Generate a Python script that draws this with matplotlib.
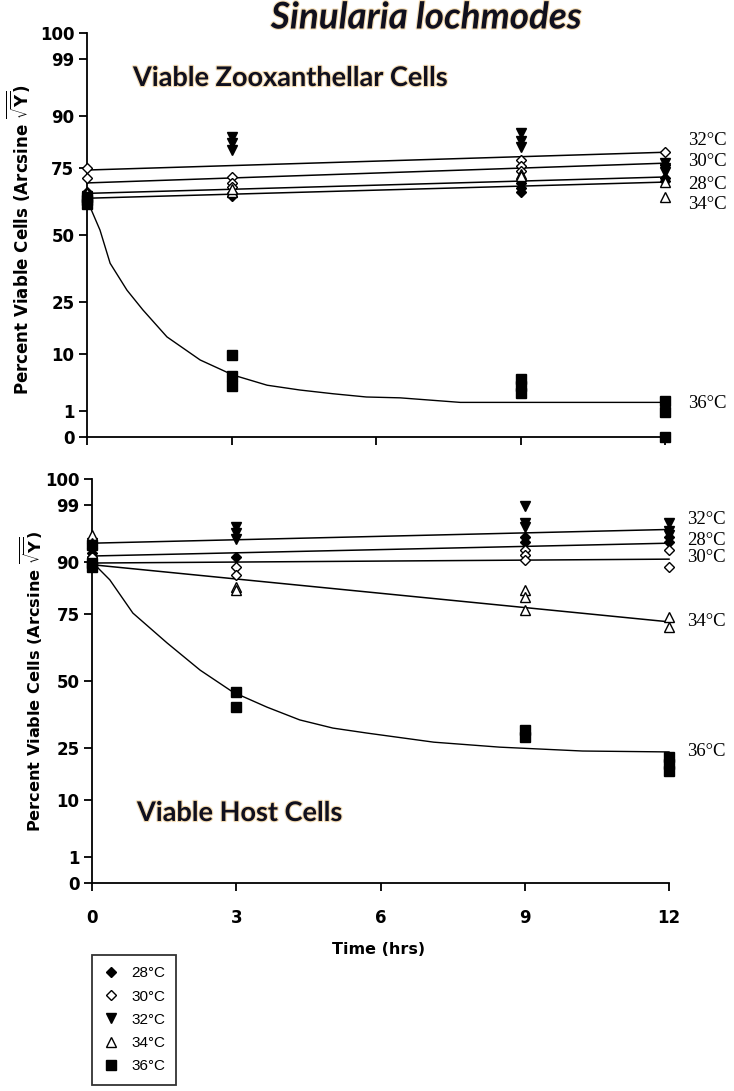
import numpy as np
import matplotlib
matplotlib.use("Agg")
import matplotlib.pyplot as plt
import matplotlib.patheffects as pe
from matplotlib.transforms import blended_transform_factory

plt.rcParams["font.family"] = ["DejaVu Sans"]
plt.rcParams["mathtext.fontset"] = "dejavusans"

# Sampling times (hrs) and temperatures
times = [0, 3, 9, 12]
temps = ["28", "30", "32", "34", "36"]

# Viable zooxanthellar cells (%), replicates per time point
zoox_28 = [[65.3, 66.5], [66.0, 65.0], [69.8, 67.9, 66.3], [71.4, 70.5]]
zoox_30 = [[75.0, 71.4], [71.8, 69.8, 68.3], [77.5, 75.5, 74.0], [80.0, 76.0]]
zoox_32 = [[64.0, 65.0], [84.5, 82.7, 80.7], [85.6, 83.5, 81.6], [76.5, 74.8, 73.5]]
zoox_34 = [[66.0, 64.5], [66.5, 67.5], [73.0, 72.0], [64.6, 70.0]]
zoox_36 = [[62.0, 63.5, 64.5], [9.9, 5.5, 3.9], [5.0, 3.9, 2.9], [1.9, 0.94, 0.0]]

# fitted lines (value at 0 h and 12 h)
zoox_fit_28 = [65.9, 71.8]
zoox_fit_30 = [69.7, 76.5]
zoox_fit_32 = [74.2, 80.0]
zoox_fit_34 = [64.1, 70.0]
zoox_fit_36_t = [0, 0.27, 0.48, 0.83, 1.16, 1.66, 2.35, 3.03, 3.74, 4.42, 5.11, 5.8, 6.5, 7.75, 12]
zoox_fit_36 = [63.5, 51.9, 39.1, 29.2, 22.5, 14.4, 8.7, 5.7, 4.0, 3.3, 2.8, 2.4, 2.3, 1.8, 1.8]

# Viable host cells (%)
host_28 = [[91.0, 92.0], [91.0], [95.0, 94.2], [95.0, 94.2]]
host_30 = [[90.0, 91.0], [88.8, 86.8], [92.5, 91.5, 90.3], [92.5, 88.8]]
host_32 = [[94.0, 93.0], [96.5, 95.7, 94.7], [98.9, 97.1, 96.5], [97.1, 96.0, 95.4]]
host_34 = [[95.4, 94.0], [83.3, 82.6], [82.6, 80.5, 76.2], [73.7, 70.3]]
host_36 = [[93.6, 89.7, 88.8], [45.7, 39.9], [31.5, 28.9], [22.2, 19.9, 17.7]]

host_fit_28 = [91.3, 93.9]
host_fit_30 = [89.7, 90.6]
host_fit_32 = [93.9, 96.2]
host_fit_34 = [89.3, 72.2]
host_fit_36_t = [0, 0.1, 0.37, 0.85, 1.56, 2.25, 2.93, 3.64, 4.32, 5.01, 5.72, 7.11, 8.48, 10.2, 12]
host_fit_36 = [89.7, 88.8, 85.4, 75.2, 64.6, 54.2, 45.7, 39.9, 35.1, 32.1, 30.3, 27.1, 25.4, 24.1, 23.8]

yticks = [0, 1, 10, 25, 50, 75, 90, 99, 100]
xticks = [0, 3, 6, 9, 12]

markers = {
    "28": dict(marker="D", mfc="black", mec="black", ms=5),
    "30": dict(marker="D", mfc="white", mec="black", ms=5, mew=1.0),
    "32": dict(marker="v", mfc="black", mec="black", ms=7),
    "34": dict(marker="^", mfc="white", mec="black", ms=7, mew=1.0),
    "36": dict(marker="s", mfc="black", mec="black", ms=6.5),
}


def fwd(p):
    p = np.clip(np.asarray(p, dtype=float) / 100.0, 0, 1)
    return np.degrees(np.arcsin(np.sqrt(p)))


def inv(d):
    d = np.clip(np.asarray(d, dtype=float), 0, 90)
    return 100.0 * np.sin(np.radians(d)) ** 2


def style_axis(ax, show_xlabels):
    ax.set_yscale("function", functions=(fwd, inv))
    ax.set_xlim(0, 12)
    ax.set_ylim(0, 100)
    ax.set_yticks(yticks)
    ax.set_yticklabels([str(v) for v in yticks], fontweight="bold", fontsize=12)
    ax.set_xticks(xticks)
    if show_xlabels:
        ax.set_xticklabels([str(v) for v in xticks], fontweight="bold", fontsize=12)
    else:
        ax.set_xticklabels([])
    ax.yaxis.set_minor_locator(matplotlib.ticker.NullLocator())
    for s in ["top", "right"]:
        ax.spines[s].set_visible(False)
    for s in ["left", "bottom"]:
        ax.spines[s].set_linewidth(1.3)
    ax.tick_params(direction="out", length=6, width=1.3, pad=3)
    ax.tick_params(axis="x", pad=13)


def draw_panel(ax, groups, fits, fit36_t, fit36):
    for t, reps in zip(temps, groups):
        xs, ys = [], []
        for tm, vals in zip(times, reps):
            xs += [tm] * len(vals)
            ys += vals
        ax.plot(xs, ys, ls="none", clip_on=False, zorder=3,
                label=f"{t}°C", **markers[t])
    for f in fits:
        ax.plot([0, 12], f, color="black", lw=1.1, zorder=2, clip_on=False)
    ax.plot(fit36_t, fit36, color="black", lw=1.0, zorder=2, clip_on=False)


fig = plt.figure(figsize=(7.34, 10.91), dpi=100)
ax1 = fig.add_axes([87 / 734, 1 - 437 / 1091, 578 / 734, 404 / 1091])
ax2 = fig.add_axes([92 / 734, 1 - 883 / 1091, 577 / 734, 404 / 1091])

draw_panel(ax1, [zoox_28, zoox_30, zoox_32, zoox_34, zoox_36],
           [zoox_fit_28, zoox_fit_30, zoox_fit_32, zoox_fit_34], zoox_fit_36_t, zoox_fit_36)
draw_panel(ax2, [host_28, host_30, host_32, host_34, host_36],
           [host_fit_28, host_fit_30, host_fit_32, host_fit_34], host_fit_36_t, host_fit_36)
style_axis(ax1, False)
style_axis(ax2, True)

# temperature labels at the right of each panel
lab_top = {"32": 83.6, "30": 77.2, "28": 69.3, "34": 61.6, "36": 1.7}
lab_bot = {"32": 97.5, "28": 94.4, "30": 90.9, "34": 72.2, "36": 23.8}
for ax, labs, xa in [(ax1, lab_top, 1.04), (ax2, lab_bot, 1.032)]:
    tr = blended_transform_factory(ax.transAxes, ax.transData)
    for t, yv in labs.items():
        ax.text(xa, yv, f"{t}°C", transform=tr, ha="left", va="center",
                fontsize=13.5, family=["Liberation Serif", "DejaVu Serif"])

ylab = r"Percent Viable Cells (Arcsine $\overline{\sqrt{\mathbf{Y}}}$)"
fig.text(19 / 734, 1 - 240 / 1091, ylab, rotation=90, ha="center", va="center",
         fontweight="bold", fontsize=12)
fig.text(31 / 734, 1 - 681 / 1091, ylab, rotation=90, ha="center", va="center",
         fontweight="bold", fontsize=11.6)

glow = [pe.withStroke(linewidth=1.6, foreground="#f5dcb2")]
fig.text(426 / 734, 1 - 18 / 1091, "Sinularia lochmodes", ha="center", va="center",
         fontsize=26.5, fontweight="bold", fontstyle="italic", family="Lato",
         color="#10101e", path_effects=glow)
fig.text(133 / 734, 1 - 78 / 1091, "Viable Zooxanthellar Cells", ha="left", va="center",
         fontsize=19.5, fontweight="bold", family="Lato", color="#10101e", path_effects=glow)
fig.text(137 / 734, 1 - 813 / 1091, "Viable Host Cells", ha="left", va="center",
         fontsize=19.5, fontweight="bold", family="Lato", color="#10101e", path_effects=glow)

fig.text(379 / 734, 1 - 950 / 1091, "Time (hrs)", ha="center", va="center",
         fontweight="bold", fontsize=11.5)

handles, labels = ax1.get_legend_handles_labels()
leg = fig.legend(handles, labels, loc="upper left",
                 bbox_to_anchor=(92 / 734, 1 - 955 / 1091),
                 prop={"family": "Liberation Sans", "size": 11},
                 frameon=True, fancybox=False, borderpad=0.75, labelspacing=0.6,
                 handlelength=1.0, handletextpad=0.8, borderaxespad=0)
leg.get_frame().set_edgecolor("black")
leg.get_frame().set_linewidth(1.3)

fig.savefig("out.png", dpi=100)
